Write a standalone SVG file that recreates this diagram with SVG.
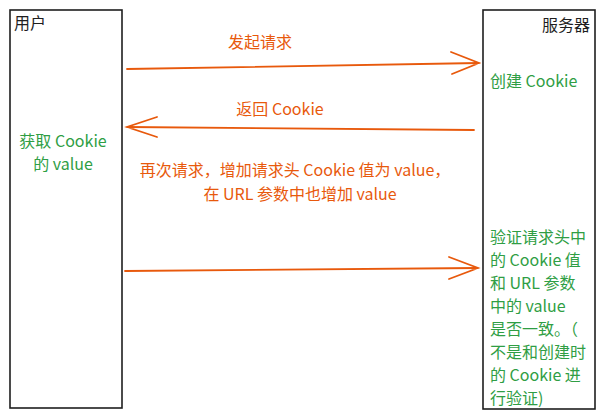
<svg xmlns="http://www.w3.org/2000/svg" width="604" height="419" viewBox="0 0 604 419">
<defs>
<style>
.box{fill:#fff;stroke:#1e1e1e;stroke-width:1.6}
.arr{fill:none;stroke:#e8590c;stroke-width:1.8;stroke-linecap:round}
.t{font-family:"Noto Sans CJK SC","Noto Sans",sans-serif;font-size:16px}
.k{fill:#1e1e1e}
.o{fill:#e8590c}
.g{fill:#2f9e44}
</style>
</defs>
<rect width="604" height="419" fill="#fff"/>
<g id="user">
<rect class="box" x="10" y="10" width="112" height="398"/>
<text class="t k" x="14" y="29">用户</text>
<text class="t g" x="63" y="147" text-anchor="middle">获取 Cookie</text>
<text class="t g" x="63" y="170" text-anchor="middle">的 value</text>
</g>
<g id="server">
<rect class="box" x="483" y="10" width="112" height="399"/>
<text class="t k" x="590" y="31" text-anchor="end">服务器</text>
<text class="t g" x="490" y="87">创建 Cookie</text>
<text class="t g" x="490" y="243">验证请求头中</text>
<text class="t g" x="490" y="266">的 Cookie 值</text>
<text class="t g" x="490" y="289">和 URL 参数</text>
<text class="t g" x="490" y="312">中的 value</text>
<text class="t g" x="490" y="335">是否一致。（</text>
<text class="t g" x="490" y="358">不是和创建时</text>
<text class="t g" x="490" y="381">的 Cookie 进</text>
<text class="t g" x="490" y="404">行验证)</text>
</g>
<g id="connectors">
<path class="arr" d="M127 69 L479 63 M451 52 L479 63 L452 74"/>
<path class="arr" d="M474 130 L127 127 M157 117 L127 127 L157 137"/>
<path class="arr" d="M125 271 L478 268 M449 257 L478 268 L449 279"/>
</g>
<g id="labels">
<text class="t o" x="260" y="48" text-anchor="middle">发起请求</text>
<text class="t o" x="280" y="115" text-anchor="middle">返回 Cookie</text>
<text class="t o" x="295" y="176" text-anchor="middle">再次请求，增加请求头 Cookie 值为 value，</text>
<text class="t o" x="300" y="200" text-anchor="middle">在 URL 参数中也增加 value</text>
</g>
</svg>
